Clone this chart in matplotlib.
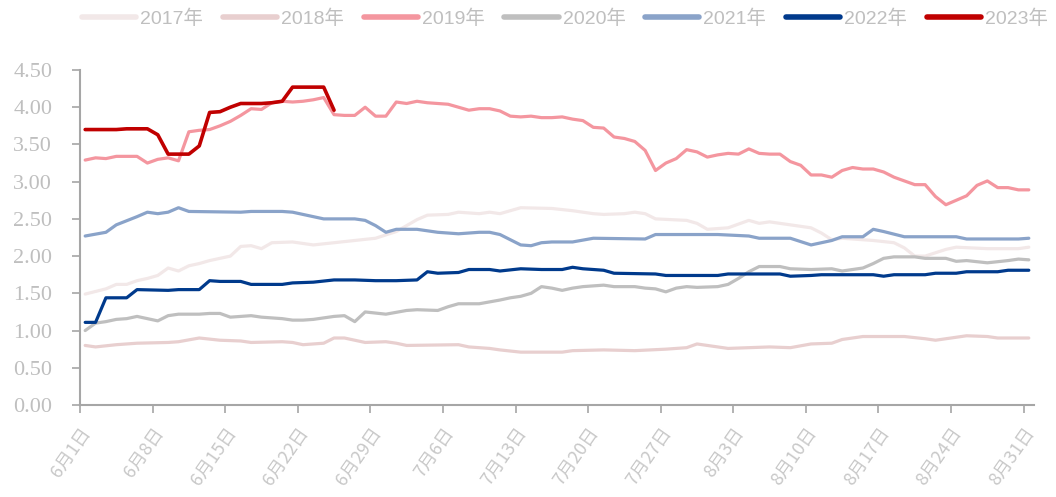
import matplotlib
matplotlib.use("Agg")
import matplotlib.pyplot as plt

# 横轴: 6月1日起的天数 (0 = 6月1日, 91 = 8月31日)
tick_days = [0, 7, 14, 21, 28, 35, 42, 49, 56, 63, 70, 77, 84, 91]
tick_labels = ["6月1日", "6月8日", "6月15日", "6月22日", "6月29日", "7月6日", "7月13日",
               "7月20日", "7月27日", "8月3日", "8月10日", "8月17日", "8月24日", "8月31日"]

years = ["2017年", "2018年", "2019年", "2020年", "2021年", "2022年", "2023年"]

d2017 = [0, 2, 3, 4, 5, 6, 7, 8, 9, 10, 11, 12, 14, 15, 16, 17, 18, 20, 22, 24, 26, 28, 30,
         32, 33, 35, 36, 38, 39, 40, 42, 45, 47, 49, 50, 52, 53, 54, 55, 58, 59, 60, 62, 64,
         65, 66, 68, 70, 71, 72, 73, 76, 78, 79, 80, 81, 83, 84, 87, 90, 91]
v2017 = [1.49, 1.56, 1.62, 1.62, 1.67, 1.70, 1.74, 1.84, 1.80, 1.87, 1.90, 1.94, 2.00, 2.13,
         2.14, 2.10, 2.18, 2.19, 2.15, 2.18, 2.21, 2.24, 2.33, 2.49, 2.55, 2.56, 2.59, 2.57,
         2.59, 2.57, 2.65, 2.64, 2.61, 2.57, 2.56, 2.57, 2.59, 2.57, 2.50, 2.48, 2.44, 2.36,
         2.38, 2.48, 2.44, 2.46, 2.42, 2.38, 2.31, 2.22, 2.24, 2.21, 2.18, 2.11, 2.00, 2.00,
         2.09, 2.12, 2.10, 2.10, 2.12]

d2018 = [0, 1, 3, 5, 8, 9, 11, 13, 15, 16, 19, 20, 21, 23, 24, 25, 26, 27, 29, 30, 31, 36,
         37, 39, 40, 42, 46, 47, 50, 53, 56, 58, 59, 60, 62, 64, 66, 68, 70, 72, 73, 74, 75,
         79, 81, 82, 84, 85, 87, 88, 91]
v2018 = [0.80, 0.78, 0.81, 0.83, 0.84, 0.85, 0.90, 0.87, 0.86, 0.84, 0.85, 0.84, 0.81, 0.83,
         0.90, 0.90, 0.87, 0.84, 0.85, 0.83, 0.80, 0.81, 0.78, 0.76, 0.74, 0.71, 0.71, 0.73,
         0.74, 0.73, 0.75, 0.77, 0.82, 0.80, 0.76, 0.77, 0.78, 0.77, 0.82, 0.83, 0.88, 0.90,
         0.92, 0.92, 0.89, 0.87, 0.91, 0.93, 0.92, 0.90, 0.90]

d2019 = list(range(92))
v2019 = [3.29, 3.32, 3.31, 3.34, 3.34, 3.34, 3.25, 3.30, 3.32, 3.28, 3.67, 3.69, 3.70, 3.75,
         3.81, 3.89, 3.98, 3.97, 4.06, 4.08, 4.07, 4.08, 4.10, 4.13, 3.90, 3.89, 3.89, 4.00,
         3.88, 3.88, 4.07, 4.05, 4.08, 4.06, 4.05, 4.04, 4.00, 3.96, 3.98, 3.98, 3.95, 3.88,
         3.87, 3.88, 3.86, 3.86, 3.87, 3.84, 3.82, 3.73, 3.72, 3.60, 3.58, 3.54, 3.42, 3.15,
         3.25, 3.31, 3.43, 3.40, 3.33, 3.36, 3.38, 3.37, 3.44, 3.38, 3.37, 3.37, 3.27, 3.22,
         3.09, 3.09, 3.06, 3.15, 3.19, 3.17, 3.17, 3.13, 3.06, 3.01, 2.96, 2.96, 2.80, 2.69,
         2.75, 2.81, 2.95, 3.01, 2.92, 2.92, 2.89, 2.89]

d2020 = [0, 1, 2, 3, 4, 5, 6, 7, 8, 9, 11, 12, 13, 14, 16, 17, 19, 20, 21, 22, 24, 25, 26,
         27, 29, 31, 32, 34, 35, 36, 38, 40, 41, 42, 43, 44, 45, 46, 47, 48, 50, 51, 53, 54,
         55, 56, 57, 58, 59, 61, 62, 63, 64, 65, 67, 68, 70, 72, 73, 75, 76, 77, 78, 80, 81,
         83, 84, 85, 87, 89, 90, 91]
v2020 = [1.00, 1.10, 1.12, 1.15, 1.16, 1.19, 1.16, 1.13, 1.20, 1.22, 1.22, 1.23, 1.23, 1.18,
         1.20, 1.18, 1.16, 1.14, 1.14, 1.15, 1.19, 1.20, 1.12, 1.25, 1.22, 1.27, 1.28, 1.27,
         1.32, 1.36, 1.36, 1.41, 1.44, 1.46, 1.50, 1.59, 1.57, 1.54, 1.57, 1.59, 1.61, 1.59,
         1.59, 1.57, 1.56, 1.52, 1.57, 1.59, 1.58, 1.59, 1.62, 1.70, 1.79, 1.86, 1.86, 1.83,
         1.82, 1.83, 1.80, 1.84, 1.90, 1.97, 1.99, 1.99, 1.97, 1.97, 1.93, 1.94, 1.91, 1.94,
         1.96, 1.95]

d2021 = [0, 2, 3, 5, 6, 7, 8, 9, 10, 15, 16, 19, 20, 21, 23, 26, 27, 28, 29, 30, 32, 33, 34,
         36, 38, 39, 40, 41, 42, 43, 44, 45, 47, 49, 54, 55, 58, 61, 64, 65, 68, 70, 72, 73,
         75, 76, 77, 79, 84, 85, 90, 91]
v2021 = [2.27, 2.32, 2.42, 2.53, 2.59, 2.57, 2.59, 2.65, 2.60, 2.59, 2.60, 2.60, 2.59, 2.56,
         2.50, 2.50, 2.48, 2.41, 2.32, 2.36, 2.36, 2.34, 2.32, 2.30, 2.32, 2.32, 2.29, 2.22,
         2.15, 2.14, 2.18, 2.19, 2.19, 2.24, 2.23, 2.29, 2.29, 2.29, 2.27, 2.24, 2.24, 2.15,
         2.21, 2.26, 2.26, 2.36, 2.33, 2.26, 2.26, 2.23, 2.23, 2.24]

d2022 = [0, 1, 2, 4, 5, 8, 9, 11, 12, 13, 15, 16, 19, 20, 22, 24, 26, 28, 30, 32, 33, 34, 36,
         37, 39, 40, 42, 44, 46, 47, 48, 50, 51, 55, 56, 61, 62, 67, 68, 70, 71, 76, 77, 78,
         81, 82, 84, 85, 88, 89, 91]
v2022 = [1.11, 1.11, 1.44, 1.44, 1.55, 1.54, 1.55, 1.55, 1.67, 1.66, 1.66, 1.62, 1.62, 1.64,
         1.65, 1.68, 1.68, 1.67, 1.67, 1.68, 1.79, 1.77, 1.78, 1.82, 1.82, 1.80, 1.83, 1.82,
         1.82, 1.85, 1.83, 1.81, 1.77, 1.76, 1.74, 1.74, 1.76, 1.76, 1.73, 1.74, 1.75, 1.75,
         1.73, 1.75, 1.75, 1.77, 1.77, 1.79, 1.79, 1.81, 1.81]

d2023 = list(range(25))
v2023 = [3.70, 3.70, 3.70, 3.70, 3.71, 3.71, 3.71, 3.63, 3.37, 3.37, 3.37, 3.48, 3.93, 3.94,
         4.00, 4.05, 4.05, 4.05, 4.06, 4.08, 4.27, 4.27, 4.27, 4.27, 3.96]

yticks = [0.0, 0.5, 1.0, 1.5, 2.0, 2.5, 3.0, 3.5, 4.0, 4.5]

colors = ["#F2E8E8", "#E8CFCF", "#F4969F", "#BFBFBF", "#8AA3C9", "#003A8C", "#C00000"]
widths = [2.3, 2.3, 2.3, 2.3, 2.3, 2.3, 2.6]
series = [(d2017, v2017), (d2018, v2018), (d2019, v2019), (d2020, v2020),
          (d2021, v2021), (d2022, v2022), (d2023, v2023)]

fig = plt.figure(figsize=(10.56, 4.97), dpi=100)
ax = fig.add_axes([80 / 1056, 92 / 497, 954 / 1056, 335 / 497])

for (d, v), name, c, w in zip(series, years, colors, widths):
    ax.plot(d, v, color=c, lw=w, label=name, solid_capstyle="round", solid_joinstyle="round")

ax.set_xlim(-0.5, 91.5)
ax.set_ylim(0, 4.5)
ax.set_yticks(yticks)
ax.set_yticklabels([f"{t:.2f}" for t in yticks], family="Liberation Serif",
                   fontsize=16, color="#BFBFBF")
ax.set_xticks([t - 0.5 for t in tick_days])
ax.set_xticklabels(tick_labels, family=["Noto Sans CJK SC", "DejaVu Sans"], fontsize=13,
                   color="#C8C8C8", rotation=55, ha="right", rotation_mode="anchor")

for s in ["top", "right"]:
    ax.spines[s].set_visible(False)
for s in ["left", "bottom"]:
    ax.spines[s].set_color("#A6A6A6")
    ax.spines[s].set_linewidth(1.5)
ax.tick_params(axis="y", direction="out", length=6, width=1.2, color="#A6A6A6", pad=14)
ax.tick_params(axis="x", direction="out", length=6, width=1.2, color="#A6A6A6", pad=8)

leg = fig.legend(loc="center", bbox_to_anchor=(0.535, 0.962), ncol=7, frameon=False,
                 handlelength=2.8, handletextpad=0.2, columnspacing=1.0,
                 prop={"family": ["Liberation Sans", "Noto Sans CJK SC"], "size": 14})
for t in leg.get_texts():
    t.set_color("#BFBFBF")
for h in leg.get_lines():
    h.set_linewidth(4)

fig.savefig("out.png", dpi=100)
